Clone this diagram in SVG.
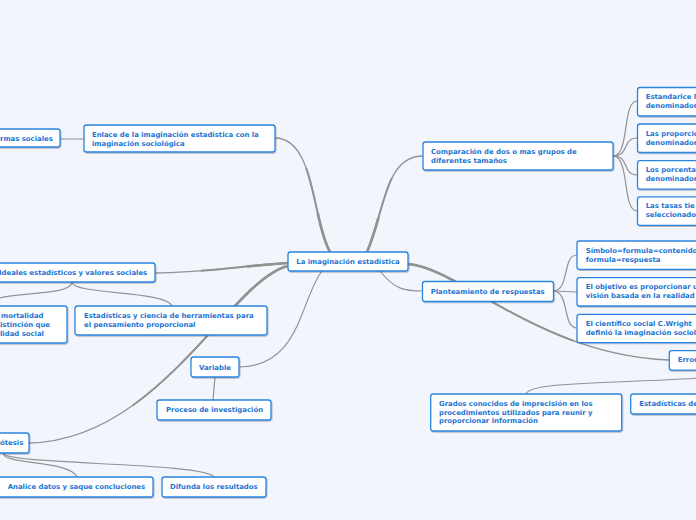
<svg xmlns="http://www.w3.org/2000/svg" width="696" height="520" viewBox="0 0 696 520">
<defs>
<filter id="sh" x="-10%" y="-30%" width="120%" height="160%">
<feDropShadow dx="0.8" dy="1" stdDeviation="0.7" flood-color="#000" flood-opacity="0.25"/>
</filter>
<path id="p1" d="M330 252 C312 220 315 138 275 138"/>
<path id="p2" d="M367 252 C385 210 385 156 423 156"/>
<path id="p3" d="M288 263 C240 266 200 273 155 273"/>
<path id="p4" d="M288 266 C230 280 160 440 29 443"/>
<path id="p5" d="M408 264 C460 268 540 355 669 360"/>
<style>
.n rect{fill:#fff;stroke:#2a84e0;stroke-width:1.3;filter:url(#sh)}
.n text{font-family:"DejaVu Sans",Verdana,sans-serif;font-weight:bold;font-size:6.9px;fill:#1b74d3}
.c path,.c use{fill:none;stroke:#929292;stroke-linecap:round}
.t1{stroke-width:1.3}
.t2{stroke-width:2;stroke-dasharray:65 200}
.t3{stroke-width:2.7;stroke-dasharray:30 200}
.thin{stroke-width:1.2}
</style>
</defs>
<rect width="696" height="520" fill="#f3f5fd"/>
<g class="c" id="connectors">
<path class="t1" d="M330 252 C312 220 315 138 275 138" pathLength="100"/>
<path class="t2" d="M330 252 C312 220 315 138 275 138" pathLength="100"/>
<path class="t3" d="M330 252 C312 220 315 138 275 138" pathLength="100"/>
<path class="t1" d="M367 252 C385 210 385 156 423 156" pathLength="100"/>
<path class="t2" d="M367 252 C385 210 385 156 423 156" pathLength="100"/>
<path class="t3" d="M367 252 C385 210 385 156 423 156" pathLength="100"/>
<path class="t1" d="M288 263 C240 266 200 273 155 273" pathLength="100"/>
<path class="t2" d="M288 263 C240 266 200 273 155 273" pathLength="100"/>
<path class="t3" d="M288 263 C240 266 200 273 155 273" pathLength="100"/>
<path class="t1" d="M288 266 C230 280 160 440 29 443" pathLength="100"/>
<path class="t2" d="M288 266 C230 280 160 440 29 443" pathLength="100"/>
<path class="t3" d="M288 266 C230 280 160 440 29 443" pathLength="100"/>
<path class="t1" d="M408 264 C460 268 540 355 669 360" pathLength="100"/>
<path class="t2" d="M408 264 C460 268 540 355 669 360" pathLength="100"/>
<path class="t3" d="M408 264 C460 268 540 355 669 360" pathLength="100"/>
<path class="thin" d="M322 271 C300 300 300 367 239 367"/>
<path class="thin" d="M380 271 C395 290 405 291 423 291"/>
<path class="thin" d="M700 378 C600 384 530 382 526 394"/>
<path class="thin" d="M84 139 L60 139"/>
<path class="thin" d="M72 282 C72 295 165 290 172 306"/>
<path class="thin" d="M72 282 C72 295 20 292 0 298"/>
<path class="thin" d="M215 377 L213 400"/>
<path class="thin" d="M3 453 C3 465 70 460 77 477"/>
<path class="thin" d="M3 453 C3 465 205 462 214 477"/>
<path class="thin" d="M613 156 C630 156 622 101 637 101"/>
<path class="thin" d="M613 156 C630 156 622 138 637 138"/>
<path class="thin" d="M613 156 C630 156 622 175 637 175"/>
<path class="thin" d="M613 156 C630 156 622 211 637 211"/>
<path class="thin" d="M553 291 C570 291 562 255 577 255"/>
<path class="thin" d="M553 291 L577 292"/>
<path class="thin" d="M553 291 C570 291 562 328 577 328"/>
</g>
<g class="n" id="center"><rect x="288" y="252" width="120" height="19" rx="2.5"/><text x="348" y="264.3" text-anchor="middle">La imaginación estadística</text></g>
<g class="n" id="enlace"><rect x="84" y="125" width="191" height="27" rx="2.5"/><text x="92" y="136.5">Enlace de la imaginación estadística con la</text><text x="92" y="145.5">imaginación sociológica</text></g>
<g class="n" id="normas"><rect x="-40" y="129" width="100" height="18" rx="2.5"/><text x="0" y="141">rmas sociales</text></g>
<g class="n" id="ideales"><rect x="-20" y="263" width="175" height="19" rx="2.5"/><text x="-1" y="275.3">Ideales estadísticos y valores sociales</text></g>
<g class="n" id="mortalidad"><rect x="-60" y="306" width="127" height="37" rx="2.5"/><text x="1" y="317.5">mortalidad</text><text x="0" y="326.5">istinción que</text><text x="0" y="335.5">lidad social</text></g>
<g class="n" id="herramientas"><rect x="75" y="306" width="192" height="29" rx="2.5"/><text x="84" y="317.5">Estadísticas y ciencia de herramientas para</text><text x="84" y="326.5">el pensamiento proporcional</text></g>
<g class="n" id="variable"><rect x="191" y="357" width="48" height="20" rx="2.5"/><text x="215" y="369.5" text-anchor="middle">Variable</text></g>
<g class="n" id="proceso"><rect x="157" y="400" width="114" height="20" rx="2.5"/><text x="166" y="412.3">Proceso de investigación</text></g>
<g class="n" id="hipotesis"><rect x="-40" y="433" width="69" height="20" rx="2.5"/><text x="0" y="445.3">ótesis</text></g>
<g class="n" id="analice"><rect x="-2" y="477" width="155" height="20" rx="2.5"/><text x="7.7" y="488.7">Analice datos y saque concluciones</text></g>
<g class="n" id="difunda"><rect x="162" y="477" width="104" height="20" rx="2.5"/><text x="170" y="488.7">Difunda los resultados</text></g>
<g class="n" id="comparacion"><rect x="423" y="142" width="190" height="28" rx="2.5"/><text x="431" y="154">Comparación de dos o mas grupos de</text><text x="431" y="163">diferentes tamaños</text></g>
<g class="n" id="estandarice"><rect x="637.5" y="87.5" width="100" height="28.5" rx="2.5"/><text x="645.7" y="99">Estandarice l</text><text x="645.7" y="108">denominador</text></g>
<g class="n" id="proporciones"><rect x="637.5" y="124" width="100" height="28.5" rx="2.5"/><text x="645.7" y="135.5">Las proporcio</text><text x="645.7" y="144.5">denominador</text></g>
<g class="n" id="porcentajes"><rect x="637.5" y="160.7" width="100" height="28.5" rx="2.5"/><text x="645.7" y="172">Los porcenta</text><text x="645.7" y="181">denominador</text></g>
<g class="n" id="tasas"><rect x="637.5" y="196.8" width="100" height="28.5" rx="2.5"/><text x="645.7" y="208.3">Las tasas tie</text><text x="645.7" y="217.3">seleccionado</text></g>
<g class="n" id="planteamiento"><rect x="422.5" y="281.5" width="131" height="20" rx="2.5"/><text x="430.7" y="293.8">Planteamiento de respuestas</text></g>
<g class="n" id="simbolo"><rect x="577" y="241" width="140" height="28.3" rx="2.5"/><text x="585.7" y="252.7">Símbolo=formula=contenido</text><text x="585.7" y="261.5">formula=respuesta</text></g>
<g class="n" id="objetivo"><rect x="577" y="277.7" width="140" height="28.3" rx="2.5"/><text x="585.7" y="289.4">El objetivo es proporcionar u</text><text x="585.7" y="298.3">visión basada en la realidad</text></g>
<g class="n" id="cientifico"><rect x="577" y="314.3" width="140" height="28.3" rx="2.5"/><text x="585.7" y="326">El científico social C.Wright</text><text x="585.7" y="334.8">definió la imaginación sociol</text></g>
<g class="n" id="error"><rect x="669.3" y="350.7" width="60" height="19.5" rx="2.5"/><text x="677.7" y="362.3">Error</text></g>
<g class="n" id="grados"><rect x="430.7" y="394" width="191" height="37" rx="2.5"/><text x="439" y="405.8">Grados conocidos de imprecisión en los</text><text x="439" y="414.6">procedimientos utilizados para reunir y</text><text x="439" y="423.4">proporcionar información</text></g>
<g class="n" id="estadisticas-de"><rect x="630.7" y="394" width="100" height="20" rx="2.5"/><text x="639.3" y="406">Estadísticas de</text></g>
</svg>
